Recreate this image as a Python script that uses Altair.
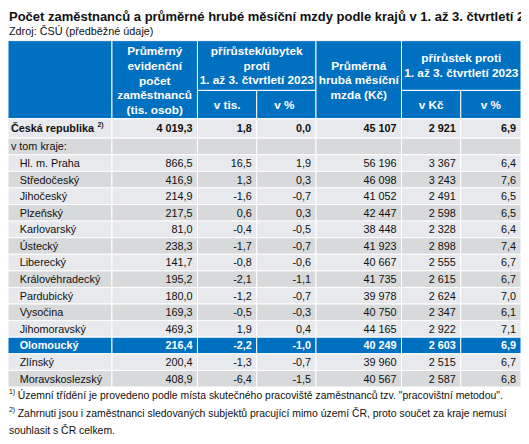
import altair as alt
import pandas as pd

# ---------------- data ----------------
title = "Počet zaměstnanců a průměrné hrubé měsíční mzdy podle krajů v 1. až 3. čtvrtletí 2024"
source = "Zdroj: ČSÚ (předběžné údaje)"

regions = ["Hl. m. Praha", "Středočeský", "Jihočeský", "Plzeňský", "Karlovarský",
           "Ústecký", "Liberecký", "Královéhradecký", "Pardubický", "Vysočina",
           "Jihomoravský", "Olomoucký", "Zlínský", "Moravskoslezský"]
employees = [866.5, 416.9, 214.9, 217.5, 81.0, 238.3, 141.7, 195.2, 180.0, 169.3,
             469.3, 216.4, 200.4, 408.9]
emp_change = [16.5, 1.3, -1.6, 0.6, -0.4, -1.7, -0.8, -2.1, -1.2, -0.5,
              1.9, -2.2, -1.3, -6.4]
emp_change_pct = [1.9, 0.3, -0.7, 0.3, -0.5, -0.7, -0.6, -1.1, -0.7, -0.3,
                  0.4, -1.0, -0.7, -1.5]
wage = [56196, 46098, 41052, 42447, 38448, 41923, 40667, 41735, 39978, 40750,
        44165, 40249, 39960, 40567]
wage_change = [3367, 3243, 2491, 2598, 2328, 2898, 2555, 2615, 2624, 2347,
               2922, 2603, 2515, 2587]
wage_change_pct = [6.4, 7.6, 6.5, 6.5, 6.4, 7.4, 6.7, 6.7, 7.0, 6.1,
                   7.1, 6.9, 6.7, 6.8]

total_label = "Česká republika"
total_values = [4019.3, 1.8, 0.0, 45107, 2921, 6.9]
subgroup_label = "v tom kraje:"
highlight = "Olomoucký"
decimals = [1, 1, 1, 0, 0, 1]

head_col1 = ["Průměrný", "evidenční", "počet", "zaměstnanců", "(tis. osob)"]
head_grp1 = ["přírůstek/úbytek", "proti", "1. až 3. čtvrtletí 2023"]
head_col4 = ["Průměrná", "hrubá měsíční", "mzda (Kč)"]
head_grp2 = ["přírůstek proti", "1. až 3. čtvrtletí 2023"]
head_sub = ["v tis.", "v %", "v Kč", "v %"]

footnote1 = "Územní třídění je provedeno podle místa skutečného pracoviště zaměstnanců tzv. \"pracovištní metodou\"."
footnote2a = "Zahrnuti jsou i zaměstnanci sledovaných subjektů pracující mimo území ČR, proto součet za kraje nemusí"
footnote2b = "souhlasit s ČR celkem."

# ---------------- layout / style ----------------
W, H = 521, 436
FONT = "Liberation Sans"
BLUE = "#0070c0"
LIGHT = "#e7e9ec"
DARK = "#d8d9da"
TXT = "#111111"
COL_EDGES = [1, 108, 196, 257, 318, 406, 467, 529]
HEAD_TOP, HEAD_MID, HEAD_BOT = 34, 85, 114
TOTAL_H, ROW_H = 20, 17
HEAD_FS, BODY_FS, NOTE_FS, TITLE_FS = 12, 11, 10.6, 13.2

XS = alt.Scale(domain=[1, 529], range=[0, W], nice=False, zero=False)
YS = alt.Scale(domain=[4, 444], range=[0, H], nice=False, zero=False)


def fmt(v, dec):
    s = f"{v:,.{dec}f}"
    return s.replace(",", "\u00a0").replace(".", ",")


# cells
cells = []
E = COL_EDGES
for (a, b, c, d) in [(E[0], E[1], HEAD_TOP, HEAD_BOT), (E[1], E[2], HEAD_TOP, HEAD_BOT),
                     (E[2], E[4], HEAD_TOP, HEAD_MID), (E[2], E[3], HEAD_MID, HEAD_BOT),
                     (E[3], E[4], HEAD_MID, HEAD_BOT), (E[4], E[5], HEAD_TOP, HEAD_BOT),
                     (E[5], E[7], HEAD_TOP, HEAD_MID), (E[5], E[6], HEAD_MID, HEAD_BOT),
                     (E[6], E[7], HEAD_MID, HEAD_BOT)]:
    cells.append(dict(x=a, x2=b, y=c, y2=d, fill=BLUE))

texts = {k: [] for k in ["ln", "lb", "cb", "rn", "rb"]}


def add(style, x, y, t, size=BODY_FS, color=TXT):
    texts[style].append(dict(x=x, y=y, text=t, size=size, color=color))


add("lb", 2, 14, title, TITLE_FS)
add("ln", 2, 28, source, 11)

# header text
def centre(i, j):
    return (E[i] + E[j]) / 2

for t, yc in zip(head_col1, [45, 60, 75, 90, 105]):
    add("cb", centre(1, 2), yc + 4, t, HEAD_FS, "white")
for t, yc in zip(head_grp1, [45, 60, 74]):
    add("cb", centre(2, 4), yc + 4, t, HEAD_FS, "white")
for t, yc in zip(head_col4, [60, 74, 90]):
    add("cb", centre(4, 5), yc + 4, t, HEAD_FS, "white")
for t, yc in zip(head_grp2, [52, 67]):
    add("cb", centre(5, 7), yc + 4, t, HEAD_FS, "white")
for t, (i, j) in zip(head_sub, [(2, 3), (3, 4), (5, 6), (6, 7)]):
    add("cb", centre(i, j) - (2 if t == "v %" and i == 3 else 0), 104.5, t, HEAD_FS, "white")

# body
rows = [("total", total_label, total_values), ("sub", subgroup_label, None)]
for k, r in enumerate(regions):
    rows.append(("reg", r, [employees[k], emp_change[k], emp_change_pct[k],
                            wage[k], wage_change[k], wage_change_pct[k]]))

y = HEAD_BOT
for i, (kind, label, vals) in enumerate(rows):
    h = TOTAL_H if kind == "total" else ROW_H
    hl = label == highlight
    fill = BLUE if hl else (LIGHT if i % 2 == 0 else DARK)
    for c in range(7):
        cells.append(dict(x=E[c], x2=E[c + 1], y=y, y2=y + h, fill=fill))
    base = y + h / 2 + 4
    col = "white" if hl else TXT
    if kind == "total":
        add("lb", 4, base, label)
        add("lb", 93, base - 5, "2)", 7)
    elif kind == "sub":
        add("ln", 4, base, label)
    else:
        add("lb" if hl else "ln", 13, base, label, BODY_FS, col)
    if vals is not None:
        st = "rb" if (kind == "total" or hl) else "rn"
        for c, v in enumerate(vals):
            add(st, E[c + 2] - 5, base, fmt(v, decimals[c]), BODY_FS, col)
    y += h

# footnotes
add("ln", 2, 396, "1)", 7)
add("ln", 11, 401, footnote1, NOTE_FS)
add("ln", 2, 415, "2)", 7)
add("ln", 11, 420, footnote2a, NOTE_FS)
add("ln", 2, 437, footnote2b, NOTE_FS)

cells_df = pd.DataFrame(cells)
rect = alt.Chart(cells_df).mark_rect(stroke="white", strokeWidth=1).encode(
    x=alt.X("x:Q", scale=XS, axis=None),
    x2="x2:Q",
    y=alt.Y("y:Q", scale=YS, axis=None),
    y2="y2:Q",
    color=alt.Color("fill:N", scale=None),
)

styles = {
    "ln": dict(align="left", fontWeight="normal"),
    "lb": dict(align="left", fontWeight="bold"),
    "cb": dict(align="center", fontWeight="bold"),
    "rn": dict(align="right", fontWeight="normal"),
    "rb": dict(align="right", fontWeight="bold"),
}

layers = [rect]
for k, st in styles.items():
    df = pd.DataFrame(texts[k])
    layers.append(
        alt.Chart(df).mark_text(baseline="alphabetic", font=FONT, **st).encode(
            x=alt.X("x:Q", scale=XS, axis=None),
            y=alt.Y("y:Q", scale=YS, axis=None),
            text="text:N",
            size=alt.Size("size:Q", scale=None),
            color=alt.Color("color:N", scale=None),
        )
    )

chart = alt.layer(*layers).properties(
    width=W, height=H, padding=0,
    autosize=alt.AutoSizeParams(type="none"),
    background="white",
).configure_view(stroke=None)

chart.save("out.html", embed_options={"renderer": "svg", "actions": False})
